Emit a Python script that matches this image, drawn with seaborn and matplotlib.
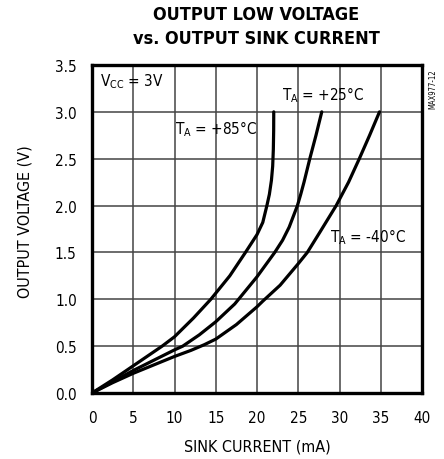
import matplotlib
matplotlib.use("Agg")
import matplotlib.pyplot as plt
import seaborn as sns
import pandas as pd

# ---- data ----
i_85 = [0, 2.5, 5, 7, 8.5, 10, 12.3, 14.4, 16.7, 18.6, 20.0, 20.7, 21.2, 21.5, 21.75, 21.9, 21.98, 22.02, 22.03]
v_85 = [0, 0.14, 0.29, 0.41, 0.50, 0.60, 0.80, 1.00, 1.25, 1.50, 1.69, 1.82, 2.00, 2.12, 2.27, 2.42, 2.60, 2.80, 3.00]

i_25 = [0, 2.5, 5, 7.5, 10, 11, 13, 15, 17.3, 20, 22.15, 23.1, 23.9, 24.9, 25.3, 25.7, 26.4, 27.15, 27.85]
v_25 = [0, 0.12, 0.24, 0.35, 0.46, 0.50, 0.62, 0.76, 0.95, 1.24, 1.50, 1.63, 1.77, 2.00, 2.12, 2.25, 2.50, 2.75, 3.00]

i_m40 = [0, 2.5, 5, 7.5, 10, 12, 13.6, 15, 17.5, 20, 20.7, 22.8, 25, 26.1, 27.65, 29.6, 31.1, 32.4, 33.65, 34.85]
v_m40 = [0, 0.11, 0.21, 0.30, 0.39, 0.455, 0.515, 0.575, 0.73, 0.92, 0.98, 1.15, 1.38, 1.50, 1.72, 2.00, 2.25, 2.50, 2.75, 3.00]

x_ticks = [0, 5, 10, 15, 20, 25, 30, 35, 40]
y_ticks = [0.0, 0.5, 1.0, 1.5, 2.0, 2.5, 3.0, 3.5]

title_lines = ["OUTPUT LOW VOLTAGE", "vs. OUTPUT SINK CURRENT"]
x_label = "SINK CURRENT (mA)"
y_label = "OUTPUT VOLTAGE (V)"

# ---- build frame ----
frames = []
for name, xs, ys in [("+85", i_85, v_85), ("+25", i_25, v_25), ("-40", i_m40, v_m40)]:
    frames.append(pd.DataFrame({"I": xs, "V": ys, "T": name}))
df = pd.concat(frames, ignore_index=True)

sns.set_theme(style="white")
plt.rcParams["font.family"] = ["DejaVu Sans"]
plt.rcParams["font.stretch"] = "condensed"
plt.rcParams["mathtext.default"] = "regular"
for k in ["text.color", "axes.labelcolor", "xtick.color", "ytick.color"]:
    plt.rcParams[k] = "black"

fig = plt.figure(figsize=(4.44, 4.60), dpi=100)
ax = fig.add_axes([92 / 444, 66 / 460, 330 / 444, 328 / 460])

sns.lineplot(data=df, x="I", y="V", hue="T", palette=["black"] * 3, sort=False,
             estimator=None, units="T", legend=False, linewidth=2.3, ax=ax)
for ln in ax.get_lines():
    ln.set_solid_joinstyle("round")

ax.set_xlim(0, 40)
ax.set_ylim(0, 3.5)
ax.set_xticks(x_ticks)
ax.set_yticks(y_ticks)
ax.set_xticklabels([str(t) for t in x_ticks])
ax.set_yticklabels([f"{t:.1f}" for t in y_ticks])
ax.tick_params(axis="both", length=0, labelsize=11, colors="black")
ax.tick_params(axis="x", pad=12)
ax.tick_params(axis="y", pad=11)
ax.grid(True, color="#444444", linewidth=1.1)
ax.set_axisbelow(True)
for s in ax.spines.values():
    s.set_color("black")
    s.set_linewidth(2.4)

ax.set_xlabel(x_label, fontsize=11.5, labelpad=10)
ax.set_ylabel(y_label, fontsize=11.5)
ax.yaxis.set_label_coords(-0.18, 0.526)

fig.text(256 / 444, 1 - 15 / 460, title_lines[0], ha="center", va="center",
         fontsize=13, fontweight="bold")
fig.text(256 / 444, 1 - 39 / 460, title_lines[1], ha="center", va="center",
         fontsize=13, fontweight="bold")

ax.text(1.0, 3.33, r"V$_{CC}$ = 3V", fontsize=11, ha="left", va="center")
ax.text(23.0, 3.19, r"T$_{A}$ = +25°C", fontsize=11, ha="left", va="center")
ax.text(10.0, 2.83, r"T$_{A}$ = +85°C", fontsize=11, ha="left", va="center")
ax.text(28.9, 1.67, r"T$_{A}$ = -40°C", fontsize=11, ha="left", va="center")

fig.text(433 / 444, 1 - 89 / 460, "MAX977-12", rotation=90, ha="center", va="center",
         fontsize=5.5)

fig.savefig("out.png", dpi=100)
